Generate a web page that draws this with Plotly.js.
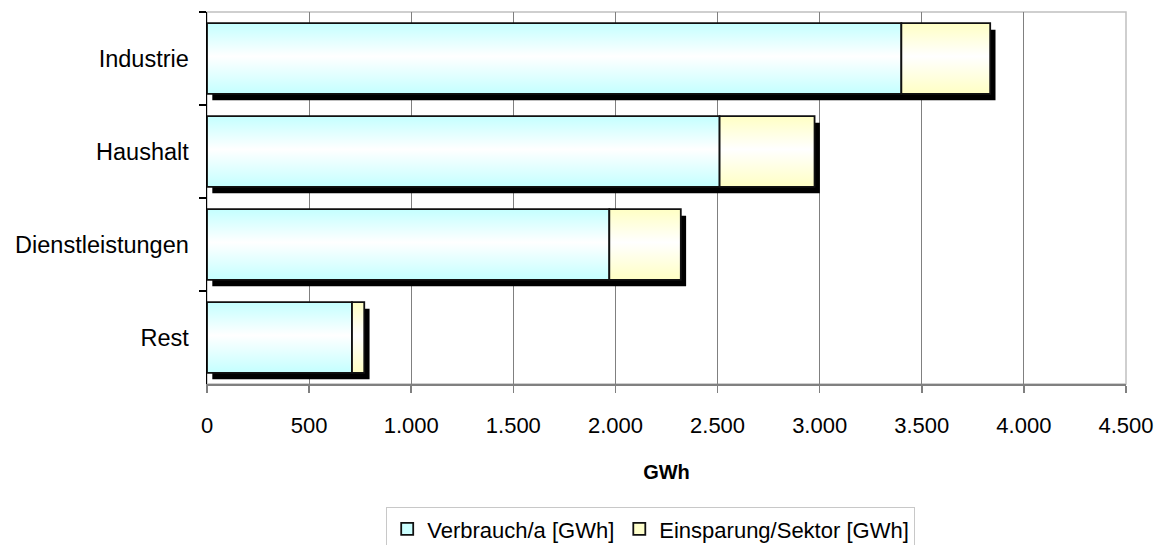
<!DOCTYPE html>
<html>
<head>
<meta charset="utf-8">
<script src="https://cdn.plot.ly/plotly-3.0.1.min.js"></script>
<style>
  html, body { margin: 0; padding: 0; background: #ffffff; }
  #chart { width: 1165px; height: 545px; }
</style>
</head>
<body>
<div id="chart"></div>
<script>
// Sectors (top to bottom) and annual figures in GWh
const categories = ['Industrie', 'Haushalt', 'Dienstleistungen', 'Rest'];
const verbrauch  = [3400, 2510, 1970, 710];   // Verbrauch/a [GWh]
const einsparung = [435, 465, 350, 60];       // Einsparung/Sektor [GWh]
const seriesNames = ['Verbrauch/a [GWh]', 'Einsparung/Sektor [GWh]'];
const xTicks = [0, 500, 1000, 1500, 2000, 2500, 3000, 3500, 4000, 4500];

// Drop shadow: shifted a few GWh to the right and a little below each bar
const shadowDx = 26;
const barWidth = 0.76;
const shadowDy = 0.07;

const totals = verbrauch.map((v, i) => v + einsparung[i]);
const FONT = 'Liberation Sans, Arial, Helvetica, sans-serif';

const traces = [
  {
    type: 'bar', orientation: 'h', y: categories, x: totals,
    base: categories.map(() => shadowDx),
    width: barWidth, offset: -barWidth / 2 + shadowDy,
    marker: { color: '#000000', line: { width: 0 } },
    showlegend: false, hoverinfo: 'skip'
  },
  {
    type: 'bar', orientation: 'h', name: seriesNames[0],
    y: categories, x: verbrauch, base: categories.map(() => 0),
    width: barWidth, offset: -barWidth / 2,
    marker: { color: '#ccffff', line: { color: '#111111', width: 1.8 } }
  },
  {
    type: 'bar', orientation: 'h', name: seriesNames[1],
    y: categories, x: einsparung, base: verbrauch,
    width: barWidth, offset: -barWidth / 2,
    marker: { color: '#ffffcc', line: { color: '#111111', width: 1.8 } }
  }
];

const layout = {
  width: 1165, height: 545,
  margin: { l: 207, r: 39, t: 12, b: 161, autoexpand: false },
  paper_bgcolor: '#ffffff', plot_bgcolor: '#ffffff',
  barmode: 'overlay',
  separators: ',.',
  font: { family: FONT, size: 23, color: '#000000' },
  xaxis: {
    range: [0, 4500], tickvals: xTicks, tickformat: ',d',
    showgrid: true, gridcolor: '#808080', gridwidth: 1,
    showline: true, linecolor: '#808080', linewidth: 1.5,
    ticks: 'outside', ticklen: 7, tickcolor: '#808080', tickwidth: 1.5,
    ticklabelstandoff: 14,
    zeroline: false, automargin: false,
    tickfont: { family: FONT, size: 22 },
    title: { text: '<b>GWh</b>', font: { family: FONT, size: 20 }, standoff: 28 }
  },
  yaxis: {
    type: 'category', autorange: 'reversed',
    showgrid: false, zeroline: false, automargin: false,
    showline: true, linecolor: '#000000', linewidth: 1.5,
    ticks: 'outside', ticklen: 7, tickcolor: '#000000', tickwidth: 1.2,
    tickson: 'boundaries', ticklabelstandoff: 12,
    tickfont: { family: FONT, size: 23.5 }
  },
  shapes: [{
    type: 'rect', xref: 'paper', yref: 'paper', x0: 0, x1: 1, y0: 0, y1: 1,
    line: { color: '#c0c0c0', width: 1.5 }, layer: 'below'
  }],
  legend: {
    orientation: 'h', x: 0.195, xanchor: 'left', y: -0.331, yanchor: 'top',
    bordercolor: '#c8c8c8', borderwidth: 1, bgcolor: '#ffffff',
    itemwidth: 30, traceorder: 'normal',
    font: { family: FONT, size: 22 }
  },
  showlegend: true
};

// Vertical two-tone gradients used for the bar fills
function addGradient(defs, id, edge) {
  const ns = 'http://www.w3.org/2000/svg';
  const g = document.createElementNS(ns, 'linearGradient');
  g.setAttribute('id', id);
  g.setAttribute('x1', '0'); g.setAttribute('y1', '0');
  g.setAttribute('x2', '0'); g.setAttribute('y2', '1');
  [[0, edge], [0.47, '#ffffff'], [1, edge]].forEach(([o, c]) => {
    const s = document.createElementNS(ns, 'stop');
    s.setAttribute('offset', o);
    s.setAttribute('stop-color', c);
    g.appendChild(s);
  });
  defs.appendChild(g);
}

Plotly.newPlot('chart', traces, layout, { staticPlot: true, displayModeBar: false }).then(gd => {
  const svg = gd.querySelector('.main-svg');
  let defs = svg.querySelector('defs');
  if (!defs) { defs = document.createElementNS('http://www.w3.org/2000/svg', 'defs'); svg.insertBefore(defs, svg.firstChild); }
  addGradient(defs, 'fillVerbrauch', '#c4ffff');
  addGradient(defs, 'fillEinsparung', '#ffffc4');
  const groups = gd.querySelectorAll('.barlayer .trace');
  const fills = [null, 'url(#fillVerbrauch)', 'url(#fillEinsparung)'];
  groups.forEach((grp, i) => {
    if (!fills[i]) return;
    grp.querySelectorAll('path').forEach(p => { p.style.fill = fills[i]; });
  });
});
</script>
</body>
</html>
